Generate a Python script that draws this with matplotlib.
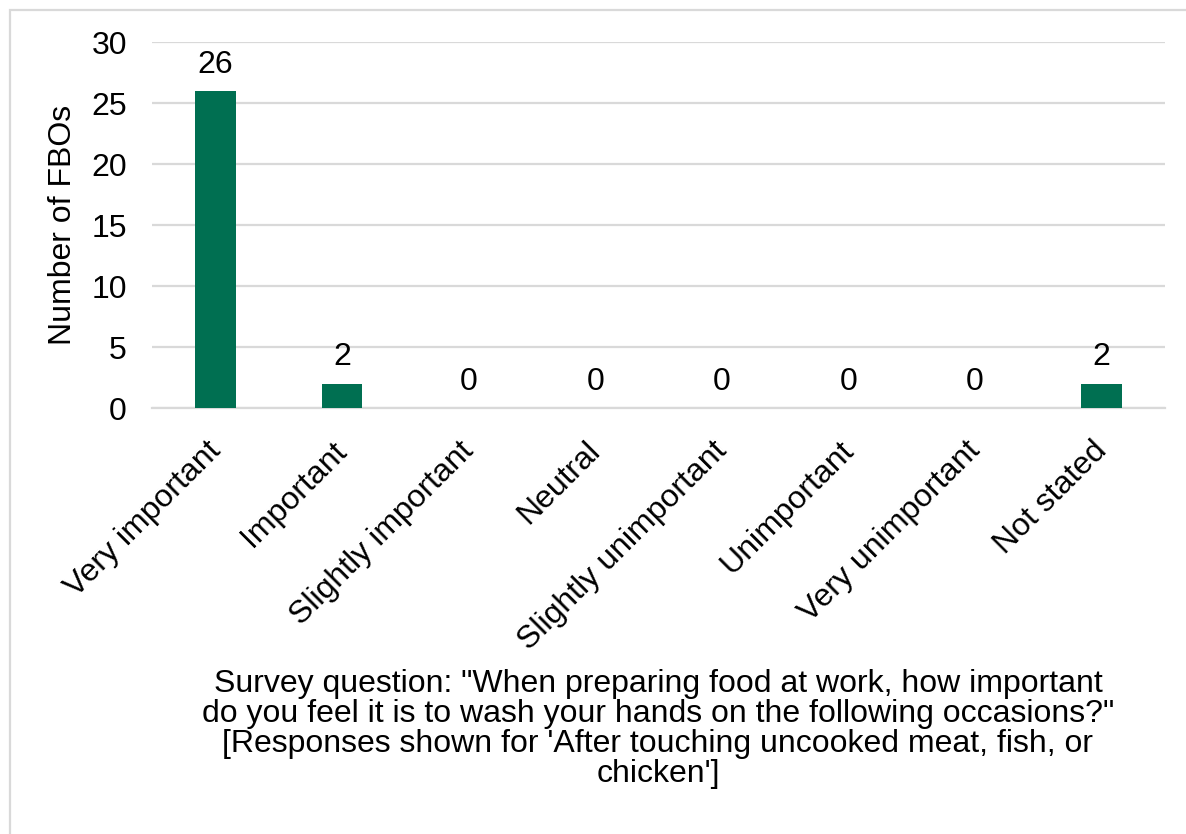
import matplotlib.pyplot as plt
import matplotlib.transforms as mtransforms
from matplotlib.patches import Rectangle

plt.rcParams['font.family'] = ['Liberation Sans', 'DejaVu Sans']

categories = [
    "Very important",
    "Important",
    "Slightly important",
    "Neutral",
    "Slightly unimportant",
    "Unimportant",
    "Very unimportant",
    "Not stated",
]
counts = [26, 2, 0, 0, 0, 0, 0, 2]
y_ticks = [0, 5, 10, 15, 20, 25, 30]
caption = ("Survey question: \"When preparing food at work, how important\n"
           "do you feel it is to wash your hands on the following occasions?\"\n"
           "[Responses shown for 'After touching uncooked meat, fish, or\n"
           "chicken']")

GREEN = "#006f51"
GRID = "#d9d9d9"
FS = 23

fig = plt.figure(figsize=(11.86, 8.34), dpi=100)
ax = fig.add_axes([152 / 1186, 1 - 408 / 834, 1013 / 1186, 366 / 834])

x = list(range(len(categories)))
bars = ax.bar(x, counts, width=0.32, color=GREEN, zorder=3)
for rect, v in zip(bars, counts):
    ax.annotate(str(v), (rect.get_x() + rect.get_width() / 2, v),
                xytext=(0, 8), textcoords="offset points",
                ha="center", va="bottom", fontsize=FS, color="black")

ax.set_xlim(-0.5, len(categories) - 0.5)
ax.set_ylim(0, 30)
ax.set_yticks(y_ticks)
ax.yaxis.grid(True, color=GRID, linewidth=1.6, zorder=0)
ax.set_axisbelow(True)
for side in ["left", "right", "top"]:
    ax.spines[side].set_visible(False)
ax.spines["bottom"].set_color(GRID)
ax.spines["bottom"].set_linewidth(1.6)
ax.tick_params(axis="y", length=0, pad=18, labelsize=FS)
ax.tick_params(axis="x", length=0, pad=20, labelsize=FS)

ax.set_xticks(x)
ax.set_xticklabels(categories, rotation=45, ha="right", va="top", rotation_mode="anchor")
# nudge the slanted labels so their ends sit just past the tick, as in the source
shift = mtransforms.ScaledTranslation(-10 / 100, 0, fig.dpi_scale_trans)
for lab in ax.get_xticklabels():
    lab.set_transform(lab.get_transform() + shift)

ax.set_ylabel("Number of FBOs", fontsize=FS)
ax.yaxis.set_label_coords(-0.073, 0.5)

fig.text(658 / 1186, 1 - 729 / 834, caption, ha="center", va="center",
         multialignment="center", fontsize=FS, linespacing=1.01)

fig.patches.append(Rectangle((10 / 1186, -0.1), 1.2, 1 - 10 / 834 + 0.1,
                             transform=fig.transFigure, fill=False,
                             edgecolor=GRID, linewidth=1.6))

fig.savefig("out.png", dpi=100)
